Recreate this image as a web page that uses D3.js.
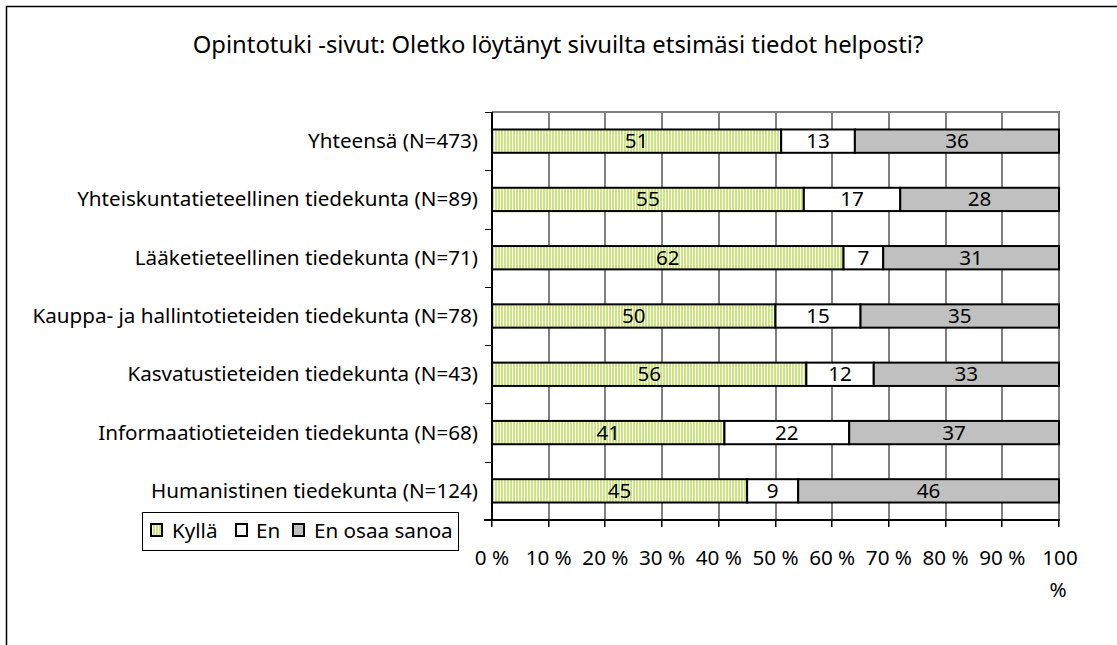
<!DOCTYPE html>
<html><head><meta charset="utf-8">
<script src="https://cdn.jsdelivr.net/npm/d3@7"></script>
<style>body{margin:0;background:#fff}svg{display:block}</style>
</head><body>
<script>
const categories = [
  "Yhteensä (N=473)",
  "Yhteiskuntatieteellinen tiedekunta (N=89)",
  "Lääketieteellinen tiedekunta (N=71)",
  "Kauppa- ja hallintotieteiden tiedekunta (N=78)",
  "Kasvatustieteiden tiedekunta (N=43)",
  "Informaatiotieteiden tiedekunta (N=68)",
  "Humanistinen tiedekunta (N=124)"
];
const kylla = [51, 55, 62, 50, 56, 41, 45];
const en = [13, 17, 7, 15, 12, 22, 9];
const enOsaa = [36, 28, 31, 35, 33, 37, 46];
const seriesNames = ["Kyllä", "En", "En osaa sanoa"];
const tickValues = [0, 10, 20, 30, 40, 50, 60, 70, 80, 90, 100];
const tickLabels = ["0 %","10 %","20 %","30 %","40 %","50 %","60 %","70 %","80 %","90 %","100 %"];
const title = "Opintotuki -sivut: Oletko löytänyt sivuilta etsimäsi tiedot helposti?";

const W = 1117, H = 645;
const font = "'Noto Sans', 'DejaVu Sans', sans-serif";
const svg = d3.select("body").append("svg").attr("width", W).attr("height", H);

function fitSize(str, target, base) {
  const t = svg.append("text").attr("font-family", font).attr("font-size", base).text(str);
  const w = t.node().getComputedTextLength();
  t.remove();
  return base * target / w;
}
const labelSize = fitSize(categories[3], 446, 16);
const titleSize = fitSize(title, 731, 16);

const defs = svg.append("defs");
const pat = defs.append("pattern").attr("id","stripes").attr("patternUnits","userSpaceOnUse")
  .attr("width",3).attr("height",10);
pat.append("rect").attr("width",3).attr("height",10).attr("fill","#fff");
pat.append("rect").attr("width",2).attr("height",10).attr("fill","#cce67f");

svg.append("rect").attr("x",6.5).attr("y",6.5).attr("width",W+20).attr("height",H+20)
  .attr("fill","none").attr("stroke","#000").attr("stroke-width",1.5);

svg.append("text").attr("x",558).attr("y",53).attr("text-anchor","middle")
  .attr("font-family",font).attr("font-size",titleSize).text(title);

const L = 492, R = 1059, T = 112, B = 520;
const x = d3.scaleLinear().domain([0,100]).range([L,R]);
const y = d3.scaleBand().domain(categories).range([T,B]).paddingInner(0.6).paddingOuter(0.3);
const yb = d3.scaleBand().domain(categories).range([T,B]);

// gridlines drawn as thin filled rects
const grid = svg.append("g");
tickValues.slice(1).forEach(v=>{
  grid.append("rect").attr("x",Math.round(x(v))-1).attr("y",T).attr("width",2).attr("height",B-T)
    .attr("fill","#808080");
});
grid.append("rect").attr("x",L).attr("y",T-1).attr("width",R-L+1).attr("height",2).attr("fill","#808080");

const rows = categories.map((c,i)=>({cat:c, vals:[kylla[i], en[i], enOsaa[i]]}));
const fills = ["url(#stripes)","#ffffff","#c0c0c0"];
rows.forEach(r=>{
  const tot = d3.sum(r.vals);
  let acc = 0;
  r.vals.forEach((v,k)=>{
    const x0 = x(100*acc/tot), x1 = x(100*(acc+v)/tot);
    acc += v;
    svg.append("rect").attr("x",x0).attr("y",y(r.cat)).attr("width",x1-x0).attr("height",y.bandwidth())
      .attr("fill",fills[k]).attr("stroke","#000").attr("stroke-width",2);
    svg.append("text").attr("x",(x0+x1)/2).attr("y",y(r.cat)+y.bandwidth()/2+7)
      .attr("text-anchor","middle").attr("font-family",font).attr("font-size",labelSize).text(v);
  });
});

const yAxis = svg.append("g");
yAxis.append("rect").attr("x",L-1).attr("y",T).attr("width",2).attr("height",B-T+1).attr("fill","#000");
d3.range(categories.length+1).forEach(i=>{
  yAxis.append("rect").attr("x",L-7).attr("y",Math.round(T+i*yb.step())).attr("width",7).attr("height",1).attr("fill","#000");
});
yAxis.selectAll("text").data(categories).enter().append("text")
  .attr("x",478).attr("y",d=>yb(d)+yb.bandwidth()/2+7).attr("text-anchor","end")
  .attr("font-family",font).attr("font-size",labelSize).text(d=>d);

const xAxis = svg.append("g");
xAxis.append("rect").attr("x",L-8).attr("y",B-1).attr("width",R-L+9).attr("height",2).attr("fill","#000");
tickValues.forEach(v=>{
  xAxis.append("rect").attr("x",Math.round(x(v))-1).attr("y",B).attr("width",1.5).attr("height",7).attr("fill","#000");
});
tickLabels.forEach((t,i)=>{
  const tx = x(tickValues[i]);
  if (i === tickLabels.length - 1) {
    const parts = t.split(" ");
    svg.append("text").attr("x",tx+1).attr("y",565).attr("text-anchor","middle").attr("font-family",font).attr("font-size",labelSize).text(parts[0]);
    svg.append("text").attr("x",tx-1).attr("y",597).attr("text-anchor","middle").attr("font-family",font).attr("font-size",labelSize).text(parts[1]);
  } else {
    svg.append("text").attr("x",tx).attr("y",565).attr("text-anchor","middle").attr("font-family",font).attr("font-size",labelSize).text(t);
  }
});

const lg = svg.append("g");
lg.append("rect").attr("x",142.5).attr("y",512.5).attr("width",316).attr("height",38)
  .attr("fill","#fff").attr("stroke","#000").attr("stroke-width",1);
const legMarkX = [151, 236, 293];
const legTextX = [172, 256, 314];
seriesNames.forEach((n,k)=>{
  lg.append("rect").attr("x",legMarkX[k]).attr("y",524).attr("width",11).attr("height",12)
    .attr("fill",fills[k]).attr("stroke","#000").attr("stroke-width",2);
  lg.append("text").attr("x",legTextX[k]).attr("y",538).attr("font-family",font).attr("font-size",labelSize).text(n);
});
</script>
</body></html>
